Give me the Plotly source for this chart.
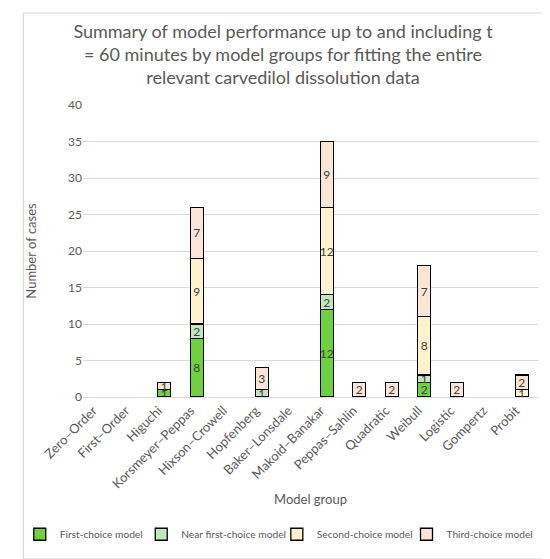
import plotly.graph_objects as go

models = ["Zero–Order", "First–Order", "Higuchi", "Korsmeyer–Peppas", "Hixson–Crowell",
          "Hopfenberg", "Baker–Lonsdale", "Makoid–Banakar", "Peppas–Sahlin", "Quadratic",
          "Weibull", "Logistic", "Gompertz", "Probit"]

# None = no cases in that group
first_choice = [None, None, 1, 8, None, None, None, 12, None, None, 2, None, None, None]
near_first = [None, None, None, 2, None, 1, None, 2, None, None, 1, None, None, None]
second_choice = [None, None, None, 9, None, None, None, 12, None, None, 8, None, None, 1]
third_choice = [None, None, 1, 7, None, 3, None, 9, 2, 2, 7, 2, None, 2]

series = [
    ("First-choice model", first_choice, "#6fd140"),
    ("Near first-choice model", near_first, "#c3e6c0"),
    ("Second-choice model", second_choice, "#fff2cc"),
    ("Third-choice model", third_choice, "#fce4d6"),
]

grey = "#595959"
font_name = "Lato"

# one legend per series so the four entries sit on a single row
legend_names = ["legend", "legend2", "legend3", "legend4"]
legend_x = [-0.139, 0.128, 0.426, 0.711]

fig = go.Figure()
for (name, vals, col), lg in zip(series, legend_names):
    fig.add_trace(go.Bar(
        x=models, y=vals, name=name, legend=lg,
        marker=dict(color=col, line=dict(color="#000000", width=1.3)),
        text=vals, textposition="inside", insidetextanchor="middle",
        textangle=0, constraintext="none",
        textfont=dict(color="#404040", size=12, family=font_name),
        width=0.4,
    ))

legend_style = dict(orientation="h", y=-0.47, yanchor="middle", xanchor="left",
                    font=dict(size=10.2, color=grey), itemwidth=30,
                    bgcolor="rgba(0,0,0,0)")
layout_legends = {lg: dict(legend_style, x=lx) for lg, lx in zip(legend_names, legend_x)}

fig.update_layout(
    barmode="stack",
    width=550, height=559,
    margin=dict(l=65, r=20, t=97, b=170),
    paper_bgcolor="white", plot_bgcolor="white",
    font=dict(family=font_name, color=grey, size=12),
    title=dict(
        text="Summary of model performance up to and including t<br>"
             "= 60 minutes by model groups for fitting the entire<br>"
             "relevant carvedilol dissolution data",
        x=0.5, xanchor="center", y=0.947, yanchor="top", automargin=False,
        font=dict(size=18, color=grey, family=font_name),
    ),
    uniformtext=dict(minsize=12, mode="show"),
    showlegend=True,
    **layout_legends,
)
fig.update_xaxes(
    tickangle=-45, showgrid=False, showline=True, linecolor="#d9d9d9", linewidth=1,
    tickfont=dict(size=13, color=grey), automargin=False, ticklabelshift=-6,
    title=dict(text="Model group", font=dict(size=13, color=grey), standoff=4),
)
fig.update_yaxes(
    range=[0, 40], dtick=5, showgrid=True, gridcolor="#d9d9d9", gridwidth=1,
    zeroline=False, tickfont=dict(size=12, color=grey), ticklen=0, automargin=False,
    title=dict(text="Number of cases", font=dict(size=13, color=grey), standoff=28),
)
# light outer frame of the chart
fig.add_shape(type="rect", xref="paper", yref="paper",
              x0=-0.131, x1=1.030, y0=-0.555, y1=1.315,
              line=dict(color="#d9d9d9", width=1.2), fillcolor="rgba(0,0,0,0)",
              layer="below")

fig.write_html("out.html")
